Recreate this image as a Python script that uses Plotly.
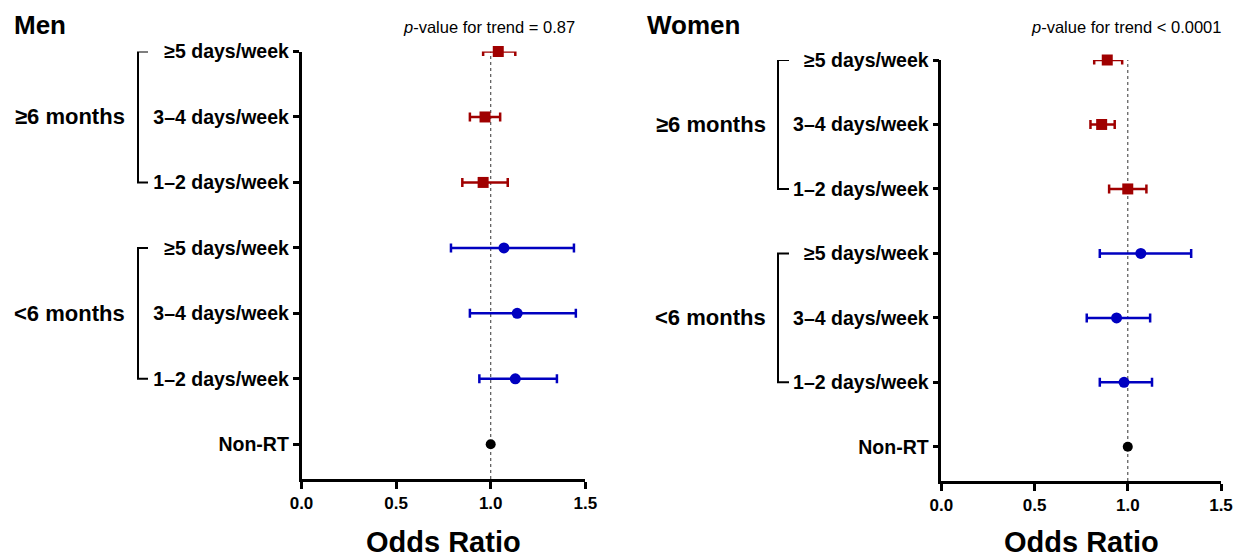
import plotly.graph_objects as go

# ---- data ----
row_labels = ["≥5 days/week", "3–4 days/week", "1–2 days/week",
              "≥5 days/week", "3–4 days/week", "1–2 days/week", "Non-RT"]
row_pos = [6, 5, 4, 3, 2, 1, 0]
group_labels = ["≥6 months", "&lt;6 months"]

men_long_or = [1.04, 0.97, 0.96]
men_long_lo = [0.96, 0.89, 0.85]
men_long_hi = [1.13, 1.05, 1.09]
men_short_or = [1.07, 1.14, 1.13]
men_short_lo = [0.79, 0.89, 0.94]
men_short_hi = [1.44, 1.45, 1.35]

women_long_or = [0.89, 0.86, 1.00]
women_long_lo = [0.82, 0.80, 0.90]
women_long_hi = [0.97, 0.93, 1.10]
women_short_or = [1.07, 0.94, 0.98]
women_short_lo = [0.85, 0.78, 0.85]
women_short_hi = [1.34, 1.12, 1.13]

ref_or = 1.0
x_ticks = [0, 0.5, 1.0, 1.5]
x_ticktext = ["0.0", "0.5", "1.0", "1.5"]
pvals = ["<i>p</i>-value for trend = 0.87", "<i>p</i>-value for trend &lt; 0.0001"]
panel_titles = ["Men", "Women"]

RED = "#A00000"
BLUE = "#0000C0"
FONT = "Liberation Sans"
W, H = 1243, 559


def px_x(p):
    return p / W


def px_y(p):
    return 1 - p / H


fig = go.Figure()


def add_panel(xa, ya, lo_or, lo_lo, lo_hi, sh_or, sh_lo, sh_hi):
    fig.add_trace(go.Scatter(
        x=lo_or, y=row_pos[0:3], mode="markers", xaxis=xa, yaxis=ya,
        marker=dict(symbol="square", size=11, color=RED),
        error_x=dict(type="data", symmetric=False,
                     array=[h - o for h, o in zip(lo_hi, lo_or)],
                     arrayminus=[o - l for o, l in zip(lo_or, lo_lo)],
                     color=RED, thickness=2.5, width=4.5),
        cliponaxis=False, showlegend=False))
    fig.add_trace(go.Scatter(
        x=sh_or, y=row_pos[3:6], mode="markers", xaxis=xa, yaxis=ya,
        marker=dict(symbol="circle", size=11, color=BLUE),
        error_x=dict(type="data", symmetric=False,
                     array=[h - o for h, o in zip(sh_hi, sh_or)],
                     arrayminus=[o - l for o, l in zip(sh_or, sh_lo)],
                     color=BLUE, thickness=2.5, width=4.5),
        cliponaxis=False, showlegend=False))
    fig.add_trace(go.Scatter(
        x=[ref_or], y=row_pos[6:7], mode="markers", xaxis=xa, yaxis=ya,
        marker=dict(symbol="circle", size=10, color="black"),
        cliponaxis=False, showlegend=False))


add_panel("x", "y", men_long_or, men_long_lo, men_long_hi,
          men_short_or, men_short_lo, men_short_hi)
add_panel("x2", "y2", women_long_or, women_long_lo, women_long_hi,
          women_short_or, women_short_lo, women_short_hi)

yrange = [-0.53, 6]
xaxis_common = dict(range=[0, 1.5], tickvals=x_ticks, ticktext=x_ticktext,
                    showline=True, linecolor="black", linewidth=2.5,
                    ticks="outside", ticklen=7, tickwidth=2.5, tickcolor="black",
                    showgrid=False, zeroline=False, automargin=False,
                    tickfont=dict(family=FONT, size=17, color="black", weight="bold"))
yaxis_common = dict(range=yrange, tickvals=row_pos, ticktext=row_labels,
                    showline=True, linecolor="black", linewidth=2.5,
                    ticks="outside", ticklen=6, tickwidth=2.5, tickcolor="black",
                    showgrid=False, zeroline=False, automargin=False,
                    tickfont=dict(family=FONT, size=19.5, color="black", weight="bold"))

fig.update_layout(
    template="none",
    width=W, height=H, margin=dict(l=0, r=0, t=0, b=0, pad=0),
    plot_bgcolor="white", paper_bgcolor="white",
    xaxis=dict(domain=[px_x(301.5), px_x(585.3)], anchor="y", **xaxis_common),
    yaxis=dict(domain=[px_y(479), px_y(51.5)], anchor="x", **yaxis_common),
    xaxis2=dict(domain=[px_x(941.3), px_x(1221)], anchor="y2", **xaxis_common),
    yaxis2=dict(domain=[px_y(481), px_y(60)], anchor="x2", **yaxis_common),
)

# dotted reference lines at OR = 1
for xr, yr in [("x", "y"), ("x2", "y2")]:
    fig.add_shape(type="line", xref=xr, yref=yr, x0=ref_or, x1=ref_or,
                  y0=yrange[0], y1=yrange[1],
                  line=dict(color="#555555", width=1.2, dash="dot"), layer="below")

# brackets and group labels
panels = [
    dict(yref="y", bx=138, sx=148, lab_r=127, title_x=12, pv_x=489),
    dict(yref="y2", bx=778, sx=789, lab_r=768, title_x=645, pv_x=1126),
]
for i, p in enumerate(panels):
    for g, (top, bot) in enumerate([(row_pos[0], row_pos[2]), (row_pos[3], row_pos[5])]):
        fig.add_shape(type="path", xref="paper", yref=p["yref"],
                      path=f"M {px_x(p['sx'])},{top} L {px_x(p['bx'])},{top} "
                           f"L {px_x(p['bx'])},{bot} L {px_x(p['sx'])},{bot}",
                      line=dict(color="black", width=2))
        fig.add_annotation(xref="paper", yref=p["yref"], x=px_x(p["lab_r"]),
                           y=(top + bot) / 2, text=group_labels[g], showarrow=False,
                           xanchor="right", yanchor="middle",
                           font=dict(family=FONT, size=22, color="black", weight="bold"))
    fig.add_annotation(xref="paper", yref="paper", x=px_x(p["title_x"]), y=px_y(25),
                       text=panel_titles[i], showarrow=False, xanchor="left",
                       yanchor="middle",
                       font=dict(family=FONT, size=26, color="black", weight="bold"))
    fig.add_annotation(xref="paper", yref="paper", x=px_x(p["pv_x"]), y=px_y(27),
                       text=pvals[i], showarrow=False, xanchor="center",
                       yanchor="middle", font=dict(family=FONT, size=16.5, color="black"))

# x-axis titles
for cx in [443.4, 1081.2]:
    fig.add_annotation(xref="paper", yref="paper", x=px_x(cx), y=px_y(542),
                       text="Odds Ratio", showarrow=False, xanchor="center",
                       yanchor="middle",
                       font=dict(family=FONT, size=29, color="black", weight="bold"))

fig.write_html("out.html", config={"displayModeBar": False},
               post_script="document.body.style.margin='0';document.body.style.overflow='hidden';")
